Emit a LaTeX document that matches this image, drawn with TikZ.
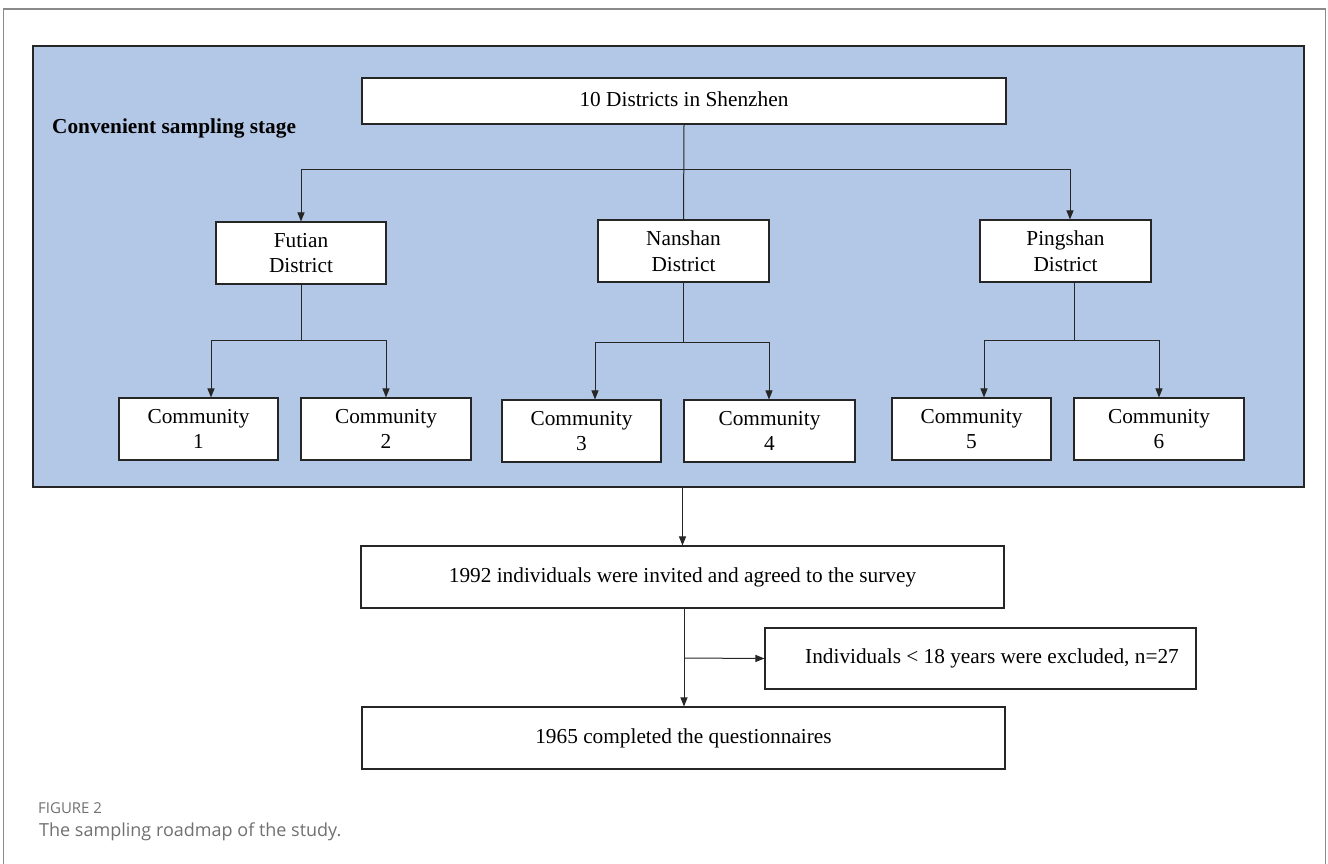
\documentclass[tikz,border=0pt]{standalone}
\usepackage{fontspec}
\setmainfont{Liberation Serif}
\newfontfamily\capfont{Open Sans}
\usetikzlibrary{arrows.meta}
\definecolor{panelblue}{HTML}{B3C7E6}
\definecolor{framegray}{HTML}{8A8A8A}
\definecolor{capgray}{HTML}{707070}
\begin{document}
\begin{tikzpicture}[x=1pt,y=-1pt,
  box/.style={draw=black!85,line width=1.1pt,fill=white,inner sep=0pt,align=center,
    font=\fontsize{21.3}{25.5}\selectfont},
  lnk/.style={draw=black!85,line width=1pt},
  arr/.style={lnk,-{Triangle[length=9pt,width=7pt]}}]
\useasboundingbox (0,0) rectangle (1328,863);
% outer frame
\draw[framegray,line width=1.5pt] (3.5,880) -- (3.5,9) -- (1325.5,9) -- (1325.5,880);
% blue panel
\node[draw=black!85,line width=1.3pt,fill=panelblue,inner sep=0pt,minimum width=1271pt,minimum height=441pt] (panel) at (668.5,266.5) {};
\node[anchor=west,inner sep=0pt,font=\fontsize{21.3}{25}\selectfont\bfseries] (stage) at (52,128) {Convenient sampling stage};
% top level
\node[box,minimum width=644pt,minimum height=46pt] (top) at (684,101) {\raisebox{3pt}{10 Districts in Shenzhen}};
\node[box,minimum width=170pt,minimum height=62pt] (fut) at (301,253) {Futian\\District};
\node[box,minimum width=171pt,minimum height=62pt] (nan) at (683.5,251) {Nanshan\\District};
\node[box,minimum width=171pt,minimum height=62pt] (pin) at (1065.5,251) {Pingshan\\District};
% communities
\node[box,minimum width=159pt,minimum height=62pt] (c1) at (198.5,429) {Community\\1};
\node[box,minimum width=170pt,minimum height=62pt] (c2) at (386,429) {Community\\2};
\node[box,minimum width=159pt,minimum height=62pt] (c3) at (581.5,431) {Community\\3};
\node[box,minimum width=171pt,minimum height=62pt] (c4) at (769.5,431) {Community\\4};
\node[box,minimum width=159pt,minimum height=62pt] (c5) at (971.5,429) {Community\\5};
\node[box,minimum width=170pt,minimum height=62pt] (c6) at (1159,429) {Community\\6};
% lower flow
\node[box,minimum width=643pt,minimum height=62pt] (inv) at (682.5,577) {1992 individuals were invited and agreed to the survey};
\node[box,minimum width=431pt,minimum height=61pt] (exc) at (980.5,658.5) {};
\node[anchor=west,inner sep=0pt,font=\fontsize{21.3}{25}\selectfont] (excT) at (805,658) {Individuals < 18 years were excluded, n=27};
\node[box,minimum width=643pt,minimum height=62pt] (done) at (683.5,738) {1965 completed the questionnaires};
% junction coordinates
\coordinate (ja) at (301,169);
\coordinate (jb) at (1070,169);
\coordinate (f1) at (211,340);
\coordinate (f2) at (386,340);
\coordinate (n1) at (595,342);
\coordinate (n2) at (769,342);
\coordinate (p1) at (984,340);
\coordinate (p2) at (1159,340);
\coordinate (ex) at (684,658);
% top connectors
\draw[lnk] (top.south) -- (nan.north);
\draw[lnk] (ja) -- (jb);
\draw[arr] (ja) -- (ja |- fut.north);
\draw[arr] (jb) -- (jb |- pin.north);
% Futian
\draw[lnk] (fut.south) -- (fut.south |- f1);
\draw[lnk] (f1) -- (f2);
\draw[arr] (f1) -- (f1 |- c1.north);
\draw[arr] (f2) -- (f2 |- c2.north);
% Nanshan
\draw[lnk] (nan.south) -- (nan.south |- n1);
\draw[lnk] (n1) -- (n2);
\draw[arr] (n1) -- (n1 |- c3.north);
\draw[arr] (n2) -- (n2 |- c4.north);
% Pingshan
\coordinate (ps) at (1074,282);
\draw[lnk] (ps) -- (ps |- p1);
\draw[lnk] (p1) -- (p2);
\draw[arr] (p1) -- (p1 |- c5.north);
\draw[arr] (p2) -- (p2 |- c6.north);
% lower flow
\draw[arr] (panel.south -| inv.north) -- (inv.north);
\draw[arr] (inv.south -| ex) -- (ex |- done.north);
\draw[arr] (ex) -- (exc.west);
% caption
\node[anchor=west,inner sep=0pt,text=capgray,font=\capfont\fontsize{15}{17}\selectfont] (figno) at (38,808) {FIGURE 2};
\node[anchor=west,inner sep=0pt,text=capgray,font=\capfont\fontsize{18}{21}\selectfont] (cap) at (39,832) {The sampling roadmap of the study.};
\end{tikzpicture}
\end{document}
